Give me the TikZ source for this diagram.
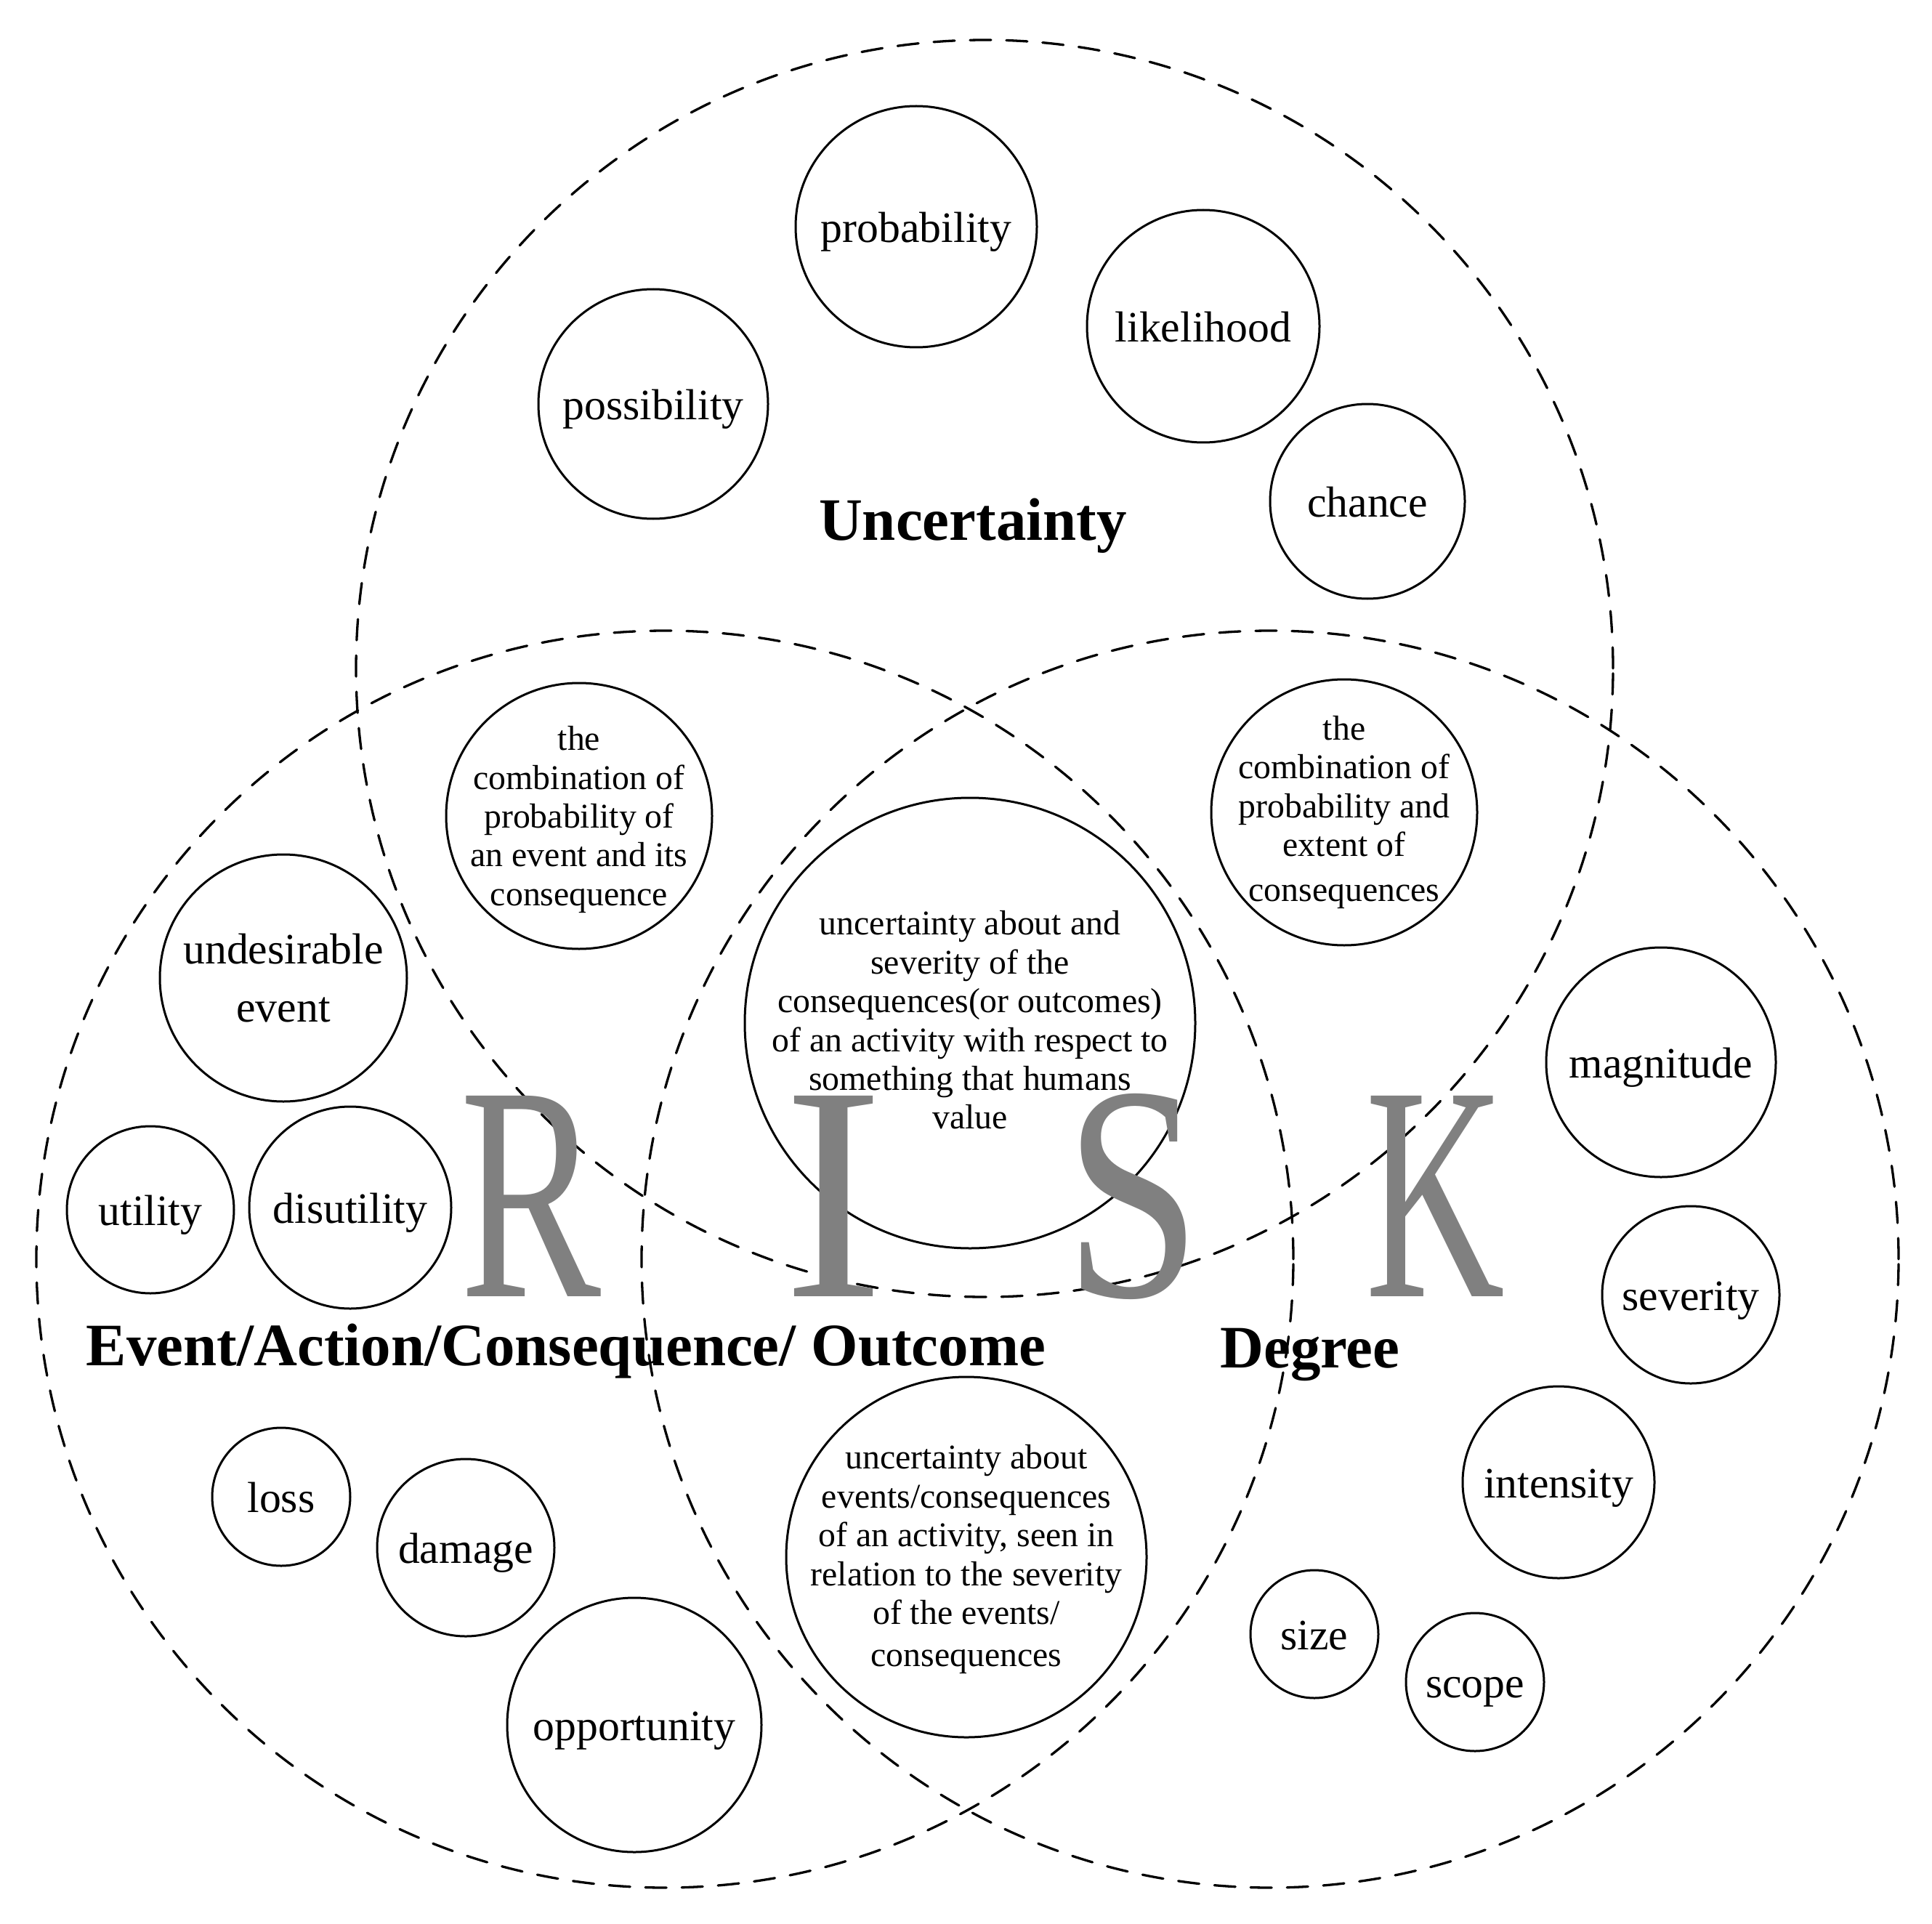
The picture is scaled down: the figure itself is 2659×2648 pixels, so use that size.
\documentclass[tikz,border=0pt]{standalone}
\usepackage{fontspec}
\setmainfont{Liberation Serif}
\usepackage{graphicx}
\definecolor{riskgray}{RGB}{128,128,128}
\begin{document}
\begin{tikzpicture}[x=0.1mm,y=-0.1mm,
  region/.style={draw, circle, inner sep=0pt, minimum size=173mm, dash pattern=on 2.9mm off 2.1mm, line width=0.33mm, line cap=round},
  term/.style={draw, circle, line width=0.3mm, inner sep=0pt, minimum size=#1},
  word/.style={font=\fontsize{17}{23}\selectfont, align=center, inner sep=0pt, text height=4.3mm, text depth=0pt},
  words/.style={font=\fontsize{17}{23}\selectfont, align=center, inner sep=0pt},
  small/.style={font=\fontsize{13.6}{15.2}\selectfont, align=center, inner sep=0pt},
  head/.style={font=\fontsize{23.6}{28}\selectfont\bfseries, anchor=base, inner sep=0pt},
  riskletter/.style={font=\fontsize{120}{120}\selectfont, text=riskgray, anchor=base, inner sep=0pt}]
\useasboundingbox (0,0) rectangle (2659,2648);

% large dashed regions
\node[region] (unc) at (1355,920) {};
\node[region] (evt) at (915,1733) {};
\node[region] (deg) at (1748,1733) {};

% small circles
\node[term=33.2mm] (prob) at (1261,312) {};
\node[term=32mm]   (like) at (1656,449) {};
\node[term=31.6mm] (poss) at (899,556) {};
\node[term=26.8mm] (chan) at (1882,690) {};
\node[term=36.6mm] (combl) at (797,1123) {};
\node[term=36.6mm] (combr) at (1850,1118) {};
\node[term=62mm]   (ctr) at (1335,1408) {};
\node[term=49.6mm] (bot) at (1330,2143) {};
\node[term=34mm]   (unde) at (390,1346) {};
\node[term=23mm]   (util) at (207,1665) {};
\node[term=27.8mm] (disu) at (482,1662) {};
\node[term=31.6mm] (magn) at (2286,1462) {};
\node[term=24.4mm] (seve) at (2327,1782) {};
\node[term=26.4mm] (inte) at (2145,2040) {};
\node[term=17.6mm] (size) at (1809,2249) {};
\node[term=19mm]   (scop) at (2030,2315) {};
\node[term=19mm]   (loss) at (387,2060) {};
\node[term=24.4mm] (dama) at (641,2130) {};
\node[term=35mm]   (oppo) at (873,2374) {};

% RISK
\node[riskletter] (R) at (731,1784) {\scalebox{0.69}[1]{R}};
\node[riskletter] (I) at (1147,1784) {\scalebox{0.98}[1]{I}};
\node[riskletter] (S) at (1559,1784) {\scalebox{0.8}[1]{S}};
\node[riskletter] (K) at (1975,1784) {\scalebox{0.63}[1]{K}};

% texts
\node[word] (tprob) at (prob.center) {probability};
\node[word] (tlike) at (like.center) {likelihood};
\node[word] (tposs) at (poss.center) {possibility};
\node[word] (tchan) at (chan.center) {chance};
\node[small] (tcombl) at (797,1128) {the\\combination of\\probability of\\an event and its\\consequence};
\node[small] (tcombr) at (combr.center) {the\\combination of\\probability and\\extent of\\[0.9mm]consequences};
\node[small] (tctr) at (1335,1404) {uncertainty about and\\severity of the\\consequences(or outcomes)\\of an activity with respect to\\something that humans\\value};
\node[small] (tbot) at (1330,2146) {uncertainty about\\events/consequences\\of an activity, seen in\\relation to the severity\\of the events/\\[0.4mm]consequences};
\node[words] (tunde) at (unde.center) {undesirable\\event};
\node[word] (tutil) at (util.center) {utility};
\node[word] (tdisu) at (disu.center) {disutility};
\node[word] (tmagn) at (magn.center) {magnitude};
\node[word] (tseve) at (seve.center) {severity};
\node[word] (tinte) at (inte.center) {intensity};
\node[word] (tsize) at (size.center) {size};
\node[word] (tscop) at (scop.center) {scope};
\node[word] (tloss) at (loss.center) {loss};
\node[word] (tdama) at (dama.center) {damage};
\node[word] (toppo) at (oppo.center) {opportunity};

% headings
\node[head] (hunc) at (1339,743) {Uncertainty};
\node[head] (hevt) at (779,1879) {Event/Action/Consequence/ Outcome};
\node[head] (hdeg) at (1803,1882) {Degree};
\end{tikzpicture}
\end{document}
